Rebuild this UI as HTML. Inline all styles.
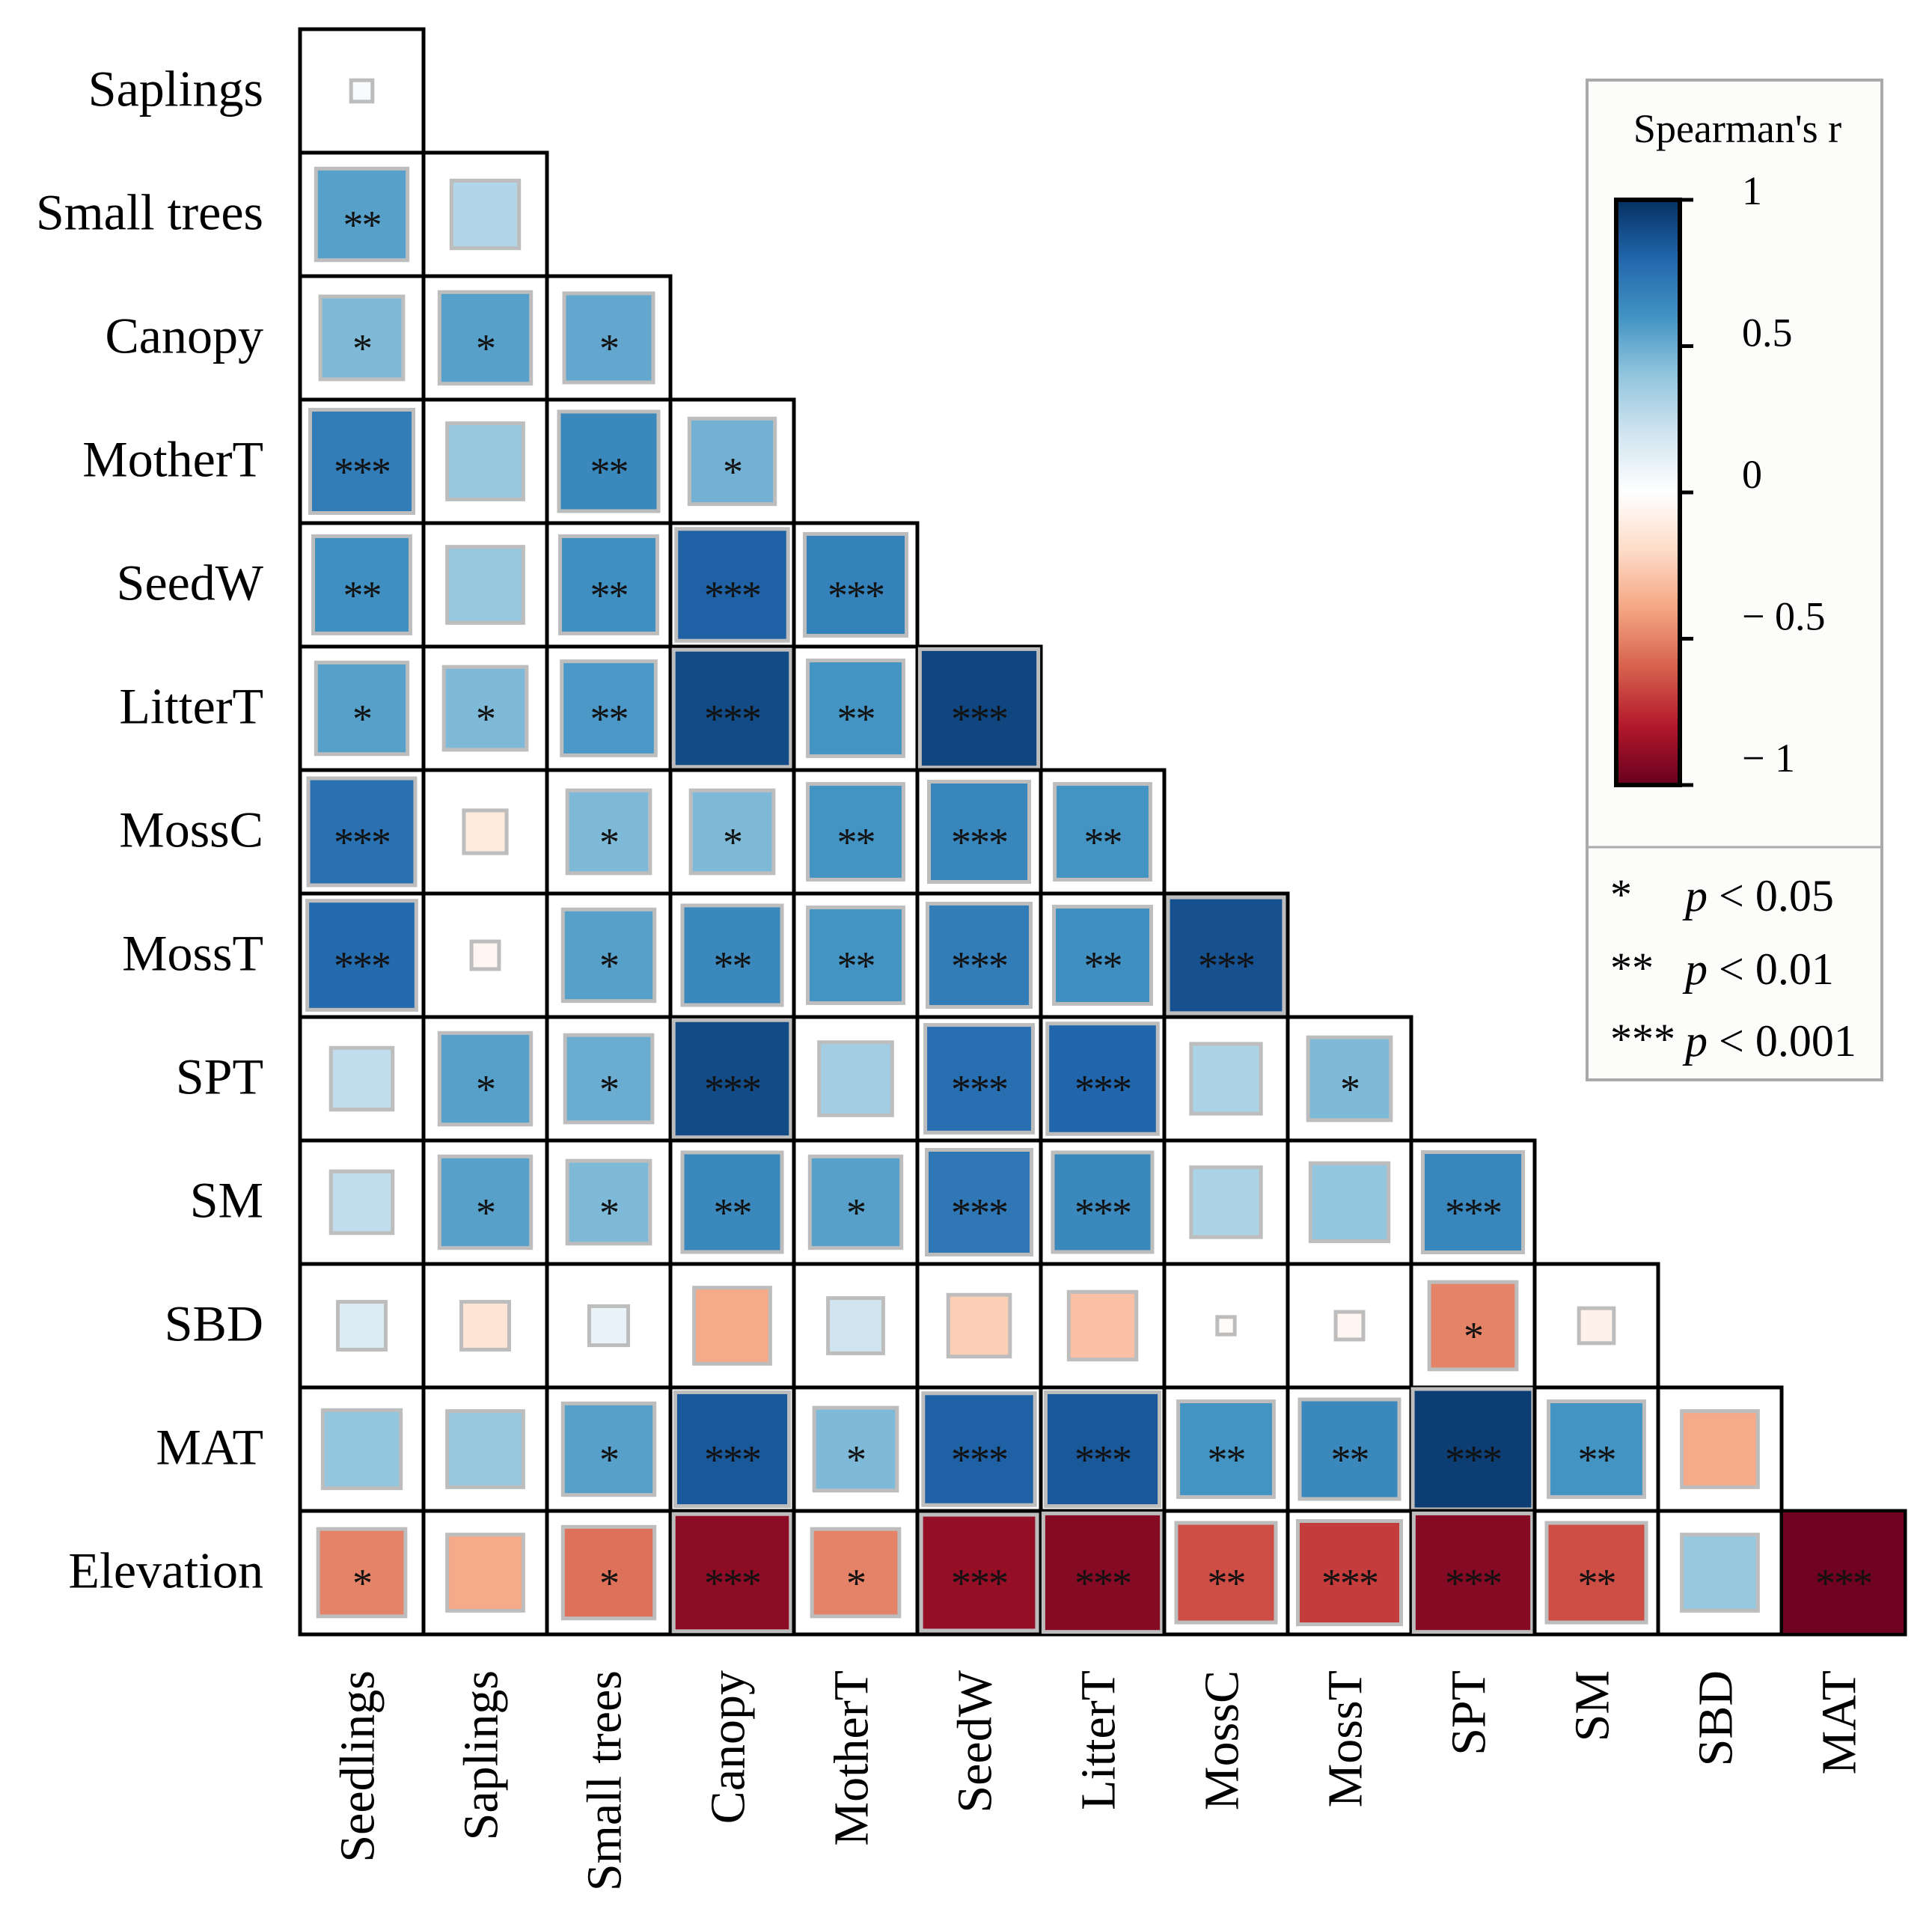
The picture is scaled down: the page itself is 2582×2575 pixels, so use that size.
<!DOCTYPE html>
<html><head><meta charset="utf-8">
<style>
html,body{margin:0;padding:0;background:#fff;}
svg{display:block;}
text{font-family:"Liberation Serif",serif;}
</style></head>
<body>
<svg id="chart" width="2582" height="2575" viewBox="0 0 2582 2575" xmlns="http://www.w3.org/2000/svg">
<defs>
<linearGradient id="cbgrad" x1="0" y1="1" x2="0" y2="0">
<stop offset="0" stop-color="#67001f"/><stop offset="0.1" stop-color="#b2182b"/><stop offset="0.2" stop-color="#d6604d"/><stop offset="0.3" stop-color="#f4a582"/><stop offset="0.4" stop-color="#fddbc7"/><stop offset="0.5" stop-color="#ffffff"/><stop offset="0.6" stop-color="#d1e5f0"/><stop offset="0.7" stop-color="#92c5de"/><stop offset="0.8" stop-color="#4393c3"/><stop offset="0.9" stop-color="#2166ac"/><stop offset="1" stop-color="#053061"/>
</linearGradient>
</defs>
<g id="cells"></g>
<g id="rowlabels"></g>
<g id="collabels"></g>
<g>
<rect x="2121" y="107" width="394" height="1336" fill="#fcfcfb" stroke="#aaa" stroke-width="4"/>
<line x1="2121" y1="1132" x2="2515" y2="1132" stroke="#aaa" stroke-width="3"/>
<text x="2322" y="190" font-size="54" text-anchor="middle">Spearman's  r</text>
<rect x="2160" y="267" width="85" height="782" fill="url(#cbgrad)" stroke="#000" stroke-width="6"/>
<g id="cbticks"></g>
<text x="2152" y="1215" font-size="58">*</text>
<text x="2252" y="1217" font-size="60"><tspan font-style="italic">p</tspan> &lt; 0.05</text>
<text x="2152" y="1313" font-size="58">**</text>
<text x="2252" y="1315" font-size="60"><tspan font-style="italic">p</tspan> &lt; 0.01</text>
<text x="2152" y="1408" font-size="58">***</text>
<text x="2252" y="1411" font-size="60"><tspan font-style="italic">p</tspan> &lt; 0.001</text>
</g>
</svg>
<script>
const rowNames = ["Saplings","Small trees","Canopy","MotherT","SeedW","LitterT","MossC","MossT","SPT","SM","SBD","MAT","Elevation"];
const colNames = ["Seedlings","Saplings","Small trees","Canopy","MotherT","SeedW","LitterT","MossC","MossT","SPT","SM","SBD","MAT"];
const rValues = [
 [0.03],
 [0.55,0.3],
 [0.45,0.55,0.52],
 [0.7,0.38,0.65,0.48],
 [0.62,0.38,0.62,0.82,0.68],
 [0.55,0.45,0.58,0.9,0.6,0.92],
 [0.75,-0.12,0.45,0.45,0.6,0.66,0.6],
 [0.78,-0.05,0.55,0.65,0.6,0.7,0.62,0.88],
 [0.25,0.55,0.5,0.9,0.35,0.76,0.8,0.32,0.45],
 [0.25,0.55,0.45,0.65,0.55,0.72,0.65,0.32,0.4,0.66],
 [0.15,-0.15,0.1,-0.38,0.2,-0.25,-0.3,-0.02,-0.05,-0.5,-0.08],
 [0.4,0.38,0.55,0.85,0.45,0.82,0.85,0.6,0.65,0.95,0.6,-0.38],
 [-0.5,-0.38,-0.55,-0.9,-0.5,-0.88,-0.92,-0.65,-0.7,-0.92,-0.65,0.38,-0.98]
];
const sigStars = [
 [""],
 ["**",""],
 ["*","*","*"],
 ["***","","**","*"],
 ["**","","**","***","***"],
 ["*","*","**","***","**","***"],
 ["***","","*","*","**","***","**"],
 ["***","","*","**","**","***","**","***"],
 ["","*","*","***","","***","***","","*"],
 ["","*","*","**","*","***","***","","","***"],
 ["","","","","","","","","","*",""],
 ["","","*","***","*","***","***","**","**","***","**",""],
 ["*","","*","***","*","***","***","**","***","***","**","","***"]
];
const cbTickValues = [1,0.5,0,-0.5,-1];
const cbTickLabels = ["1","0.5","0","\u2212 0.5","\u2212 1"];

const NS="http://www.w3.org/2000/svg";
const X0=401, Y0=39, CELL=165;
const xPos = c => X0 + c*CELL;
const yPos = r => Y0 + r*CELL;
const cbY = v => 267 + (1-v)/2*782;
const stops=[[-1,[103,0,31]],[-0.8,[178,24,43]],[-0.6,[214,96,77]],[-0.4,[244,165,130]],[-0.2,[253,219,199]],[0,[255,255,255]],[0.2,[209,229,240]],[0.4,[146,197,222]],[0.6,[67,147,195]],[0.8,[33,102,172]],[1,[5,48,97]]];
function color(v){
  for(let i=0;i<stops.length-1;i++){
    const [a,ca]=stops[i],[b,cb]=stops[i+1];
    if(v<=b){const t=(v-a)/(b-a);return "rgb("+ca.map((c,k)=>Math.round(c+(cb[k]-c)*t)).join(",")+")";}
  }
  return "rgb(5,48,97)";
}
function mk(tag,attrs,parent){const e=document.createElementNS(NS,tag);for(const k in attrs)e.setAttribute(k,attrs[k]);parent.appendChild(e);return e;}
const cells=document.getElementById("cells");
const rl=document.getElementById("rowlabels");
const cl=document.getElementById("collabels");
const cbt=document.getElementById("cbticks");

rValues.forEach((row,ri)=>{
  row.forEach((v,ci)=>{
    const x=xPos(ci), y=yPos(ri);
    const bg=mk("rect",{x:x,y:y,width:CELL,height:CELL,fill:"#fff",stroke:"#000","stroke-width":5},cells);
    
    
    const s=Math.min(CELL-4, CELL*Math.sqrt(Math.abs(v)));
    const full = s>=CELL-6;
    const sq=mk("rect",{x:x+(CELL-s)/2,y:y+(CELL-s)/2,width:s,height:s,fill:color(v),stroke:full&&Math.abs(v)>0.97?"none":"#bdbdbd","stroke-width":5},cells);
    
    
    const st=sigStars[ri][ci];
    if(st){
      const t=mk("text",{x:x+CELL/2,y:y+CELL/2+32,"font-size":54,"text-anchor":"middle",fill:"#111","font-family":"Liberation Sans, sans-serif","letter-spacing":"-2"},cells);
      t.textContent=st;
      
      
    }
  });
});
rowNames.forEach((n,i)=>{
  const t=mk("text",{x:352,y:yPos(i)+CELL/2+20,"font-size":68,"text-anchor":"end"},rl);
  t.textContent=n;
  
  
});
colNames.forEach((n,i)=>{
  const cx=xPos(i)+CELL/2+16, y=2232;
  const t=mk("text",{x:cx,y:y,"font-size":66,"text-anchor":"end",transform:"rotate(-90 "+cx+" "+y+")"},cl);
  t.textContent=n;
  
  
});
cbTickValues.forEach((v,i)=>{
  const y=cbY(v);
  const l=mk("line",{x1:2245,x2:2263,y1:y,y2:y,stroke:"#000","stroke-width":5},cbt);
  
  
  const t=mk("text",{x:2328,y:y+6-(1-v)/2*24,"font-size":54},cbt);
  t.textContent=cbTickLabels[i];
  
  
});
</script>
</body></html>
